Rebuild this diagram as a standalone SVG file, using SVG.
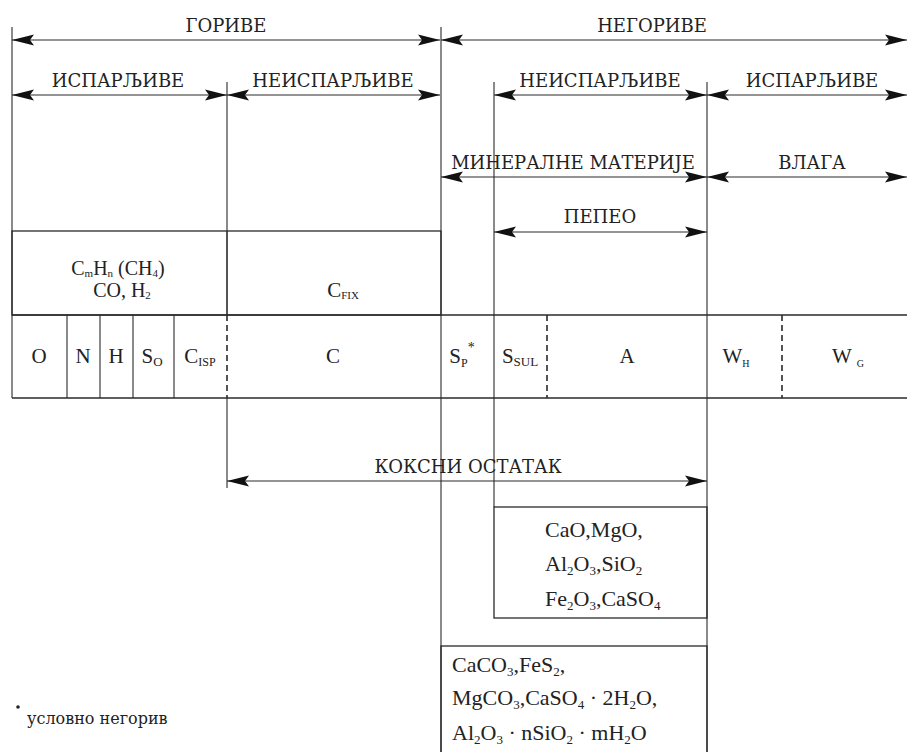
<svg xmlns="http://www.w3.org/2000/svg" width="907" height="752" viewBox="0 0 907 752">
<style>
.ln{stroke:#2a2a2a;stroke-width:1.1;fill:none}
.dash{stroke:#2a2a2a;stroke-width:1.6;fill:none;stroke-dasharray:6 4}
.bx{stroke:#2a2a2a;stroke-width:1.3;fill:none}
.ar{stroke:#2a2a2a;stroke-width:1.1;fill:none;marker-start:url(#ah);marker-end:url(#ah)}
text{font-family:"Liberation Serif","Times New Roman",serif;fill:#222}
.lb{font-family:"DejaVu Serif",serif;font-size:18px;text-anchor:middle}
.fn{font-family:"DejaVu Serif",serif;font-size:16px}
.f{font-size:21px}
.g{font-size:22px}
.v{font-size:20px}
.c{text-anchor:middle}
</style>
<defs>
<marker id="ah" markerUnits="userSpaceOnUse" viewBox="0 0 22 12" refX="22" refY="6" markerWidth="22" markerHeight="12" orient="auto-start-reverse">
<path d="M0,0.5 L22,6 L0,11.5 L4,6 Z" fill="#111"/>
</marker>
</defs>
<rect width="907" height="752" fill="#fff"/>
<g id="connectors">
<line class="ln" x1="12" y1="27" x2="12" y2="398"/>
<line class="ln" x1="227" y1="82" x2="227" y2="315"/>
<line class="dash" x1="227" y1="315" x2="227" y2="398"/>
<line class="ln" x1="227" y1="398" x2="227" y2="488"/>
<line class="ln" x1="441" y1="27" x2="441" y2="752"/>
<line class="ln" x1="494" y1="82" x2="494" y2="507"/>
<line class="ln" x1="707" y1="82" x2="707" y2="752"/>
<line class="ar" x1="12" y1="40" x2="440" y2="40"/>
<line class="ar" x1="441" y1="40" x2="907" y2="40"/>
<line class="ar" x1="12" y1="95" x2="227" y2="95"/>
<line class="ar" x1="227" y1="95" x2="440" y2="95"/>
<line class="ar" x1="494" y1="95" x2="707" y2="95"/>
<line class="ar" x1="707" y1="95" x2="907" y2="95"/>
<line class="ar" x1="441" y1="177" x2="707" y2="177"/>
<line class="ar" x1="707" y1="177" x2="907" y2="177"/>
<line class="ar" x1="494" y1="232" x2="707" y2="232"/>
<line class="ar" x1="227" y1="481" x2="707" y2="481"/>
</g>
<g id="labels">
<text class="lb" x="226" y="32">ГОРИВЕ</text>
<text class="lb" x="652" y="32">НЕГОРИВЕ</text>
<text class="lb" x="118" y="87">ИСПАРЉИВЕ</text>
<text class="lb" x="333" y="87">НЕИСПАРЉИВЕ</text>
<text class="lb" x="600" y="87">НЕИСПАРЉИВЕ</text>
<text class="lb" x="812" y="87">ИСПАРЉИВЕ</text>
<text class="lb" x="573" y="169">МИНЕРАЛНЕ МАТЕРИЈЕ</text>
<text class="lb" x="812" y="169">ВЛАГА</text>
<text class="lb" x="600" y="223">ПЕПЕО</text>
<text class="lb" x="468" y="473">КОКСНИ ОСТАТАК</text>
</g>
<g id="volatile-box">
<rect class="bx" x="12" y="231" width="429" height="84"/>
<line class="ln" x1="227" y1="231" x2="227" y2="315"/>
<text class="v c" x="118" y="275">C<tspan font-size="11" dy="2">m</tspan><tspan dy="-2">H</tspan><tspan font-size="11" dy="2">n</tspan><tspan dy="-2"> (CH</tspan><tspan font-size="11" dy="2">4</tspan><tspan dy="-2">)</tspan></text>
<text class="v c" x="122" y="297">CO, H<tspan font-size="11" dy="2">2</tspan></text>
<text class="f c" x="343" y="297">C<tspan font-size="11" dy="2">FIX</tspan></text>
</g>
<g id="table">
<line class="bx" x1="12" y1="315" x2="907" y2="315"/>
<line class="bx" x1="12" y1="398" x2="907" y2="398"/>
<line class="ln" x1="67" y1="315" x2="67" y2="398"/>
<line class="ln" x1="100" y1="315" x2="100" y2="398"/>
<line class="ln" x1="133" y1="315" x2="133" y2="398"/>
<line class="ln" x1="174" y1="315" x2="174" y2="398"/>
<line class="dash" x1="547" y1="315" x2="547" y2="398"/>
<line class="dash" x1="782" y1="315" x2="782" y2="398"/>
<text class="f c" x="39" y="363">O</text>
<text class="f c" x="83" y="363">N</text>
<text class="f c" x="116" y="363">H</text>
<text class="f c" x="152" y="363">S<tspan font-size="13" dy="3">O</tspan></text>
<text class="f c" x="200" y="363">C<tspan font-size="12" dy="3">ISP</tspan></text>
<text class="f c" x="333" y="363">C</text>
<text class="f c" x="462" y="363">S<tspan font-size="12" dy="4">P</tspan><tspan font-size="14" dy="-15">*</tspan></text>
<text class="f c" x="520" y="363">S<tspan font-size="13" dy="3">SUL</tspan></text>
<text class="f c" x="627" y="363">A</text>
<text class="f c" x="736" y="363">W<tspan font-size="10" dy="4">H</tspan></text>
<text class="f c" x="848" y="363">W <tspan font-size="10" dy="4">G</tspan></text>
</g>
<g id="ash-box">
<rect class="bx" x="494" y="507" width="213" height="111"/>
<text class="g" x="545" y="537">CaO,MgO,</text>
<text class="g" x="545" y="571">Al<tspan font-size="13" dy="4">2</tspan><tspan dy="-4">O</tspan><tspan font-size="13" dy="4">3</tspan><tspan dy="-4">,SiO</tspan><tspan font-size="13" dy="4">2</tspan></text>
<text class="g" x="545" y="606">Fe<tspan font-size="13" dy="4">2</tspan><tspan dy="-4">O</tspan><tspan font-size="13" dy="4">3</tspan><tspan dy="-4">,CaSO</tspan><tspan font-size="13" dy="4">4</tspan></text>
</g>
<g id="mineral-box">
<rect class="bx" x="441" y="646" width="266" height="120"/>
<text class="g" x="452" y="672">CaCO<tspan font-size="13" dy="4">3</tspan><tspan dy="-4">,FeS</tspan><tspan font-size="13" dy="4">2</tspan><tspan dy="-4">,</tspan></text>
<text class="g" x="452" y="705">MgCO<tspan font-size="13" dy="4">3</tspan><tspan dy="-4">,CaSO</tspan><tspan font-size="13" dy="4">4</tspan><tspan dy="-4"> · 2H</tspan><tspan font-size="13" dy="4">2</tspan><tspan dy="-4">O,</tspan></text>
<text class="g" x="452" y="740">Al<tspan font-size="13" dy="4">2</tspan><tspan dy="-4">O</tspan><tspan font-size="13" dy="4">3</tspan><tspan dy="-4"> · nSiO</tspan><tspan font-size="13" dy="4">2</tspan><tspan dy="-4"> · mH</tspan><tspan font-size="13" dy="4">2</tspan><tspan dy="-4">O</tspan></text>
</g>
<g id="footnote">
<circle cx="18" cy="707" r="1.8" fill="#222"/>
<text class="fn" x="27" y="724">условно негорив</text>
</g>
</svg>
